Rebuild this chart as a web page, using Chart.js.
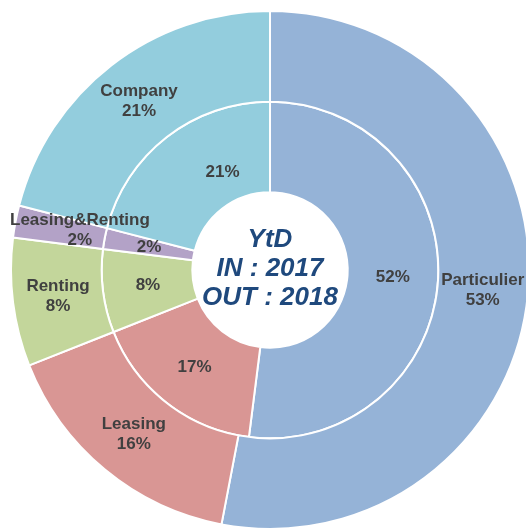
<!DOCTYPE html>
<html>
<head>
<meta charset="utf-8">
<script src="https://cdn.jsdelivr.net/npm/chart.js@4.4.1/dist/chart.umd.min.js"></script>
<style>
    html, body { margin: 0; padding: 0; background: #fff; overflow: hidden; width: 526px; height: 528px; }
    #wrap { position: absolute; left: 10px; top: 10px; width: 520px; height: 520px; }
</style>
</head>
<body>
<div id="wrap"><canvas id="donut" width="520" height="520"></canvas></div>
<script>
const categories = ['Particulier', 'Leasing', 'Renting', 'Leasing&Renting', 'Company'];
const values2018 = [53, 16, 8, 2, 21]; // outer ring (OUT)
const values2017 = [52, 17, 8, 2, 21]; // inner ring (IN)
const centerLines = ['YtD', 'IN : 2017', 'OUT : 2018'];
const sliceColors = ['#95B3D7', '#D99694', '#C3D69B', '#B3A2C7', '#93CDDD'];

const FONT = '"Liberation Sans", Arial, sans-serif';

// writes the slice labels (name + % outside, % only inside) and the title in the hole
const ringLabels = {
    id: 'ringLabels',
    afterDatasetsDraw(chart, args, opts) {
        const ctx = chart.ctx;
        ctx.save();
        ctx.textAlign = 'center';
        ctx.textBaseline = 'middle';
        ctx.font = 'bold 17px ' + FONT;
        ctx.fillStyle = '#404040';

        chart.data.datasets.forEach((ds, di) => {
            const meta = chart.getDatasetMeta(di);
            meta.data.forEach((arc, i) => {
                const p = arc.getProps(['x', 'y', 'startAngle', 'endAngle', 'innerRadius', 'outerRadius']);
                const mid = (p.startAngle + p.endAngle) / 2;
                const r = (p.innerRadius + p.outerRadius) / 2;
                let cx = p.x + Math.cos(mid) * r;
                let cy = p.y + Math.sin(mid) * r;
                const lines = di === 0 ? [categories[i], ds.data[i] + '%'] : [ds.data[i] + '%'];

                const nudge = (opts.nudges || []).find(n => n.dataset === di && n.index === i);
                if (nudge) { cx += nudge.dx; cy += nudge.dy; }

                // keep wide labels on the canvas
                const half = Math.max(...lines.map(t => ctx.measureText(t).width)) / 2;
                if (cx - half < 0) cx = half;

                const lh = 20;
                lines.forEach((t, k) => {
                    ctx.fillText(t, cx, cy + (k - (lines.length - 1) / 2) * lh);
                });
            });
        });

        const m = chart.getDatasetMeta(0).data[0];
        ctx.font = 'italic bold 26px ' + FONT;
        ctx.fillStyle = '#1F497D';
        const lh = 29;
        centerLines.forEach((t, k) => {
            ctx.fillText(t, m.x, m.y + (k - 1) * lh - 1);
        });
        ctx.restore();
    }
};

new Chart(document.getElementById('donut'), {
    type: 'doughnut',
    data: {
        labels: categories,
        datasets: [
            { label: '2018', data: values2018, backgroundColor: sliceColors, borderColor: '#fff', borderWidth: 2 },
            { label: '2017', data: values2017, backgroundColor: sliceColors, borderColor: '#fff', borderWidth: 2 }
        ]
    },
    options: {
        responsive: false,
        animation: false,
        cutout: '30%',
        layout: { padding: 0 },
        plugins: {
            legend: { display: false },
            tooltip: { enabled: false },
            ringLabels: { nudges: [{ dataset: 1, index: 4, dx: 28, dy: 0 }] }
        }
    },
    plugins: [ringLabels]
});
</script>
</body>
</html>
